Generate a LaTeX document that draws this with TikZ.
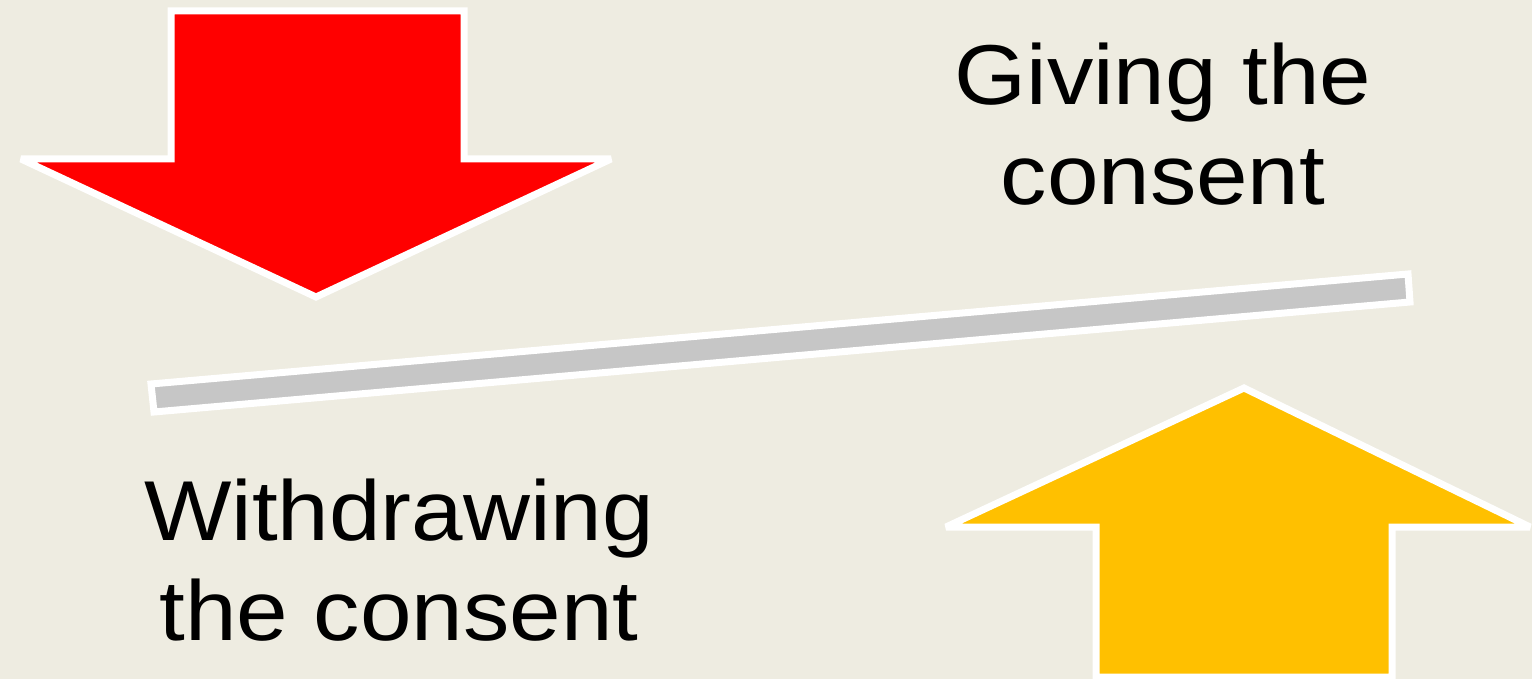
\documentclass[tikz,border=0pt]{standalone}
\usepackage{fontspec}
\setmainfont{Liberation Sans}[FakeStretch=1.09]
\definecolor{bgtan}{HTML}{EEECE1}
\definecolor{arrowred}{HTML}{FF0000}
\definecolor{arrowgold}{HTML}{FFC000}
\definecolor{bargray}{HTML}{C6C6C6}
\tikzset{
  shapeout/.style={draw=white, line width=7pt, line join=miter, miter limit=4},
  bigtext/.style={inner sep=0pt, anchor=base, text=black, font=\fontsize{85}{100}\selectfont}
}
\begin{document}
\begin{tikzpicture}[x=1pt,y=-1pt]
\fill[bgtan] (0,0) rectangle (1532,679);
\useasboundingbox (0,0) rectangle (1532,679);
% red down arrow
\filldraw[shapeout, fill=arrowred] (171,11) -- (464,11) -- (464,159) -- (611,159) -- (316,297) -- (21,159) -- (171,159) -- cycle;
% gold up arrow
\filldraw[shapeout, fill=arrowgold] (1244,388) -- (1530,527) -- (1392,527) -- (1392,677) -- (1096,677) -- (1096,527) -- (946,527) -- cycle;
% tilted bar
\filldraw[shapeout, fill=bargray] (151,384) -- (1408,274) -- (1410,302) -- (154,412) -- cycle;
% labels
\node[bigtext] (give1) at (1163,105) {Giving the};
\node[bigtext] (give2) at (1163,205) {consent};
\node[bigtext] (with1) at (399,540) {Withdrawing};
\node[bigtext] (with2) at (399,640) {the consent};
\end{tikzpicture}
\end{document}
